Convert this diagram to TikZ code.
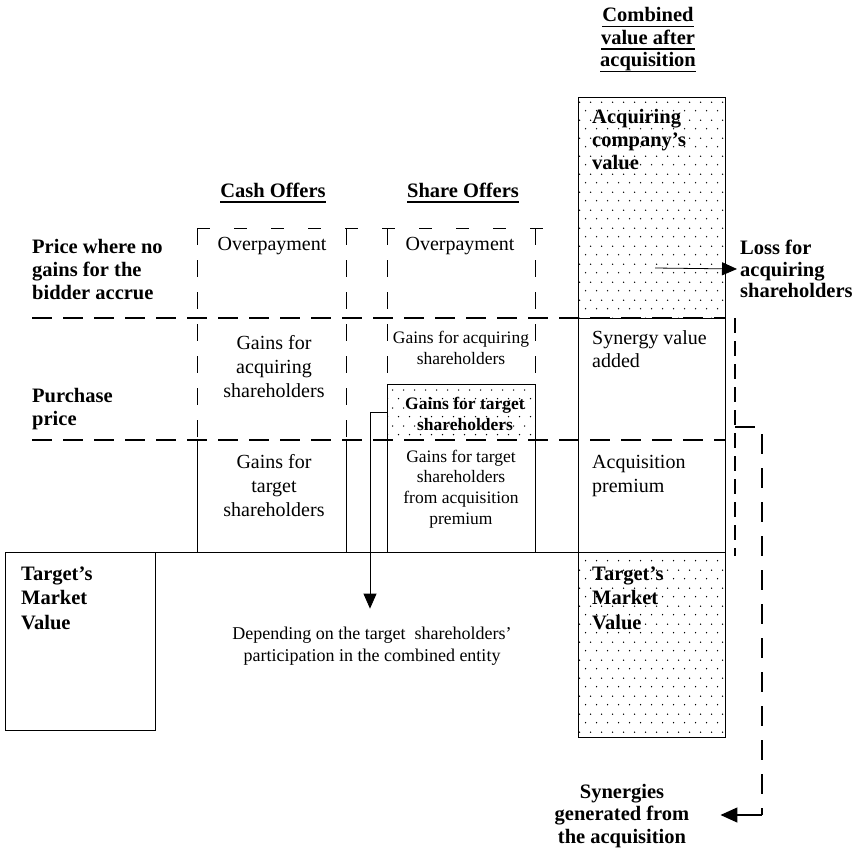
\documentclass[tikz,border=0pt]{standalone}
\usepackage{fontspec}
\setmainfont{Liberation Serif}
\usetikzlibrary{arrows.meta,patterns.meta}

% staggered dot screen for the shaded blocks
\tikzdeclarepattern{
  name=stagdots,
  type=uncolored,
  bounding box={(0pt,0pt) and (11pt,18pt)},
  tile size={(11pt,18pt)},
  code={
    \pgfpathcircle{\pgfpoint{2.75pt}{4.5pt}}{0.8pt}
    \pgfpathcircle{\pgfpoint{8.25pt}{13.5pt}}{0.8pt}
    \pgfusepath{fill}
  }
}

% underlined heading line
\newcommand{\headline}[1]{\leavevmode\setbox0=\hbox{#1}\rlap{\vrule width\wd0 height -3.8pt depth 5.4pt}\box0}

\tikzset{
  boxline/.style={line width=0.8pt},
  longdash/.style={line width=1.8pt, dash pattern=on 20pt off 11pt},
  sidedash/.style={line width=0.8pt, dash pattern=on 17pt off 15pt},
  topdash/.style={line width=1pt, dash pattern=on 13pt off 24pt},
  thickdash/.style={line width=1.6pt, dash pattern=on 15pt off 8pt},
  bracketdash/.style={line width=1.6pt, dash pattern=on 20pt off 14pt},
  dotfill/.style={pattern=stagdots},
  boldlabel/.style={font=\fontsize{20.5}{23}\selectfont\bfseries, align=left, inner sep=0pt, anchor=west},
  heading/.style={font=\fontsize{20.5}{22.5}\selectfont\bfseries, align=center, inner sep=0pt},
  body/.style={font=\fontsize{20}{24}\selectfont, align=center, inner sep=0pt},
  bodyleft/.style={font=\fontsize{20}{23.5}\selectfont, align=left, inner sep=0pt, anchor=west},
  smalltext/.style={font=\fontsize{17.5}{20.7}\selectfont, align=center, inner sep=0pt},
  tip/.style={-{Triangle[length=15pt,width=13pt]}},
}

\begin{document}
\begin{tikzpicture}[x=1pt,y=-1pt]
  \def\cashL{197}
  \def\cashR{346}
  \def\shareL{387}
  \def\shareR{535}
  \def\combL{578}
  \def\combR{725}
  \def\yTop{228} % top of the offer boxes
  \def\yA{318}   % price where no gains accrue
  \def\yB{440}   % purchase price
  \def\yC{552}   % target's market value
  \def\yShare{384}

  \useasboundingbox (0,0) rectangle (864,853);

  % Combined value column
  \fill[dotfill] (\combL,97) rectangle (\combR,\yA);
  \fill[dotfill] (\combL,\yC) rectangle (\combR,737);
  \draw[boxline] (\combL,97) rectangle (\combR,737);
  \draw[boxline] (\combL,\yA) -- (\combR,\yA);

  % Target's market value box and base line
  \draw[boxline] (5,\yC) rectangle (155,730);
  \draw[boxline] (155,\yC) -- (\combR,\yC);

  % Dashed offer boxes
  \draw[topdash] (\cashL,\yTop) -- (552,\yTop);
  \foreach \x in {\cashL,\cashR}
    \draw[sidedash] (\x,\yTop) -- (\x,\yB);
  \foreach \x in {\shareL,\shareR}
    \draw[sidedash] (\x,\yTop) -- (\x,\yShare);

  % Gains for target shareholders (share offers)
  \fill[dotfill] (\shareL,\yShare) rectangle (\shareR,\yB);
  \draw[boxline] (\shareL,\yB) -- (\shareL,\yShare) -- (\shareR,\yShare) -- (\shareR,\yB);

  % Solid sides of the lower boxes
  \foreach \x in {\cashL,\cashR,\shareL,\shareR}
    \draw[boxline] (\x,\yB) -- (\x,\yC);

  % Price levels
  \draw[longdash] (32,\yA) -- (\combR,\yA);
  \draw[longdash] (32,\yB) -- (\combR,\yB);
  \draw[thickdash] (735,\yA) -- (735,556);

  % Headings
  \node[heading] (cashhead) at (273,193) {\headline{Cash Offers}};
  \node[heading] (sharehead) at (463,193) {\headline{Share Offers}};
  \node[heading] (combhead) at (648,40) {\headline{Combined}\\\headline{value after}\\\headline{acquisition}};

  % Left labels
  \node[boldlabel] (nogain) at (32,270) {Price where no\\gains for the\\bidder accrue};
  \node[boldlabel] (purchase) at (32,409) {Purchase\\price};
  \node[boldlabel, font=\fontsize{20.5}{24.5}\selectfont\bfseries] (tmvleft) at (21,598) {Target's\\Market\\Value};

  % Cash offers
  \node[body] (cashover) at (272,246) {Overpayment};
  \node[body] (cashacq) at (274,367) {Gains for\\acquiring\\shareholders};
  \node[body] (cashtgt) at (274,486) {Gains for\\target\\shareholders};

  % Share offers
  \node[body] (shareover) at (460,246) {Overpayment};
  \node[smalltext] (shareacq) at (461,348) {Gains for acquiring\\shareholders};
  \node[smalltext, font=\fontsize{17.5}{20.7}\selectfont\bfseries] (sharetgt) at (465,414) {Gains for target\\shareholders};
  \node[smalltext] (sharepremium) at (461,489) {Gains for target\\shareholders\\from acquisition\\premium};
  \node[smalltext, font=\fontsize{18}{22}\selectfont] (depend) at (372,646) {Depending on the target\ \ shareholders'\\participation in the combined entity};

  % Combined value
  \node[boldlabel] (acqvalue) at (592,140) {Acquiring\\company's\\value};
  \node[bodyleft] (synergy) at (592,349) {Synergy value\\added};
  \node[bodyleft] (premium) at (592,476) {Acquisition\\premium};
  \node[boldlabel, font=\fontsize{20.5}{24.5}\selectfont\bfseries] (tmvcomb) at (592,598) {Target's\\Market\\Value};

  % Right labels
  \node[boldlabel, font=\fontsize{20.5}{21.5}\selectfont\bfseries] (loss) at (740,269) {Loss for\\acquiring\\shareholders};
  \node[heading] (syn) at (622,816) {Synergies\\generated from\\the acquisition};

  % Arrows
  \coordinate (lossfrom) at (655,268);
  \draw[boxline, tip] (lossfrom) -- ([xshift=-3pt]loss.west);

  \coordinate (stub) at (\shareL,412);
  \draw[boxline, tip] (stub) -| ([xshift=-2pt,yshift=18pt]depend.north);

  \coordinate (brkfrom) at (735,427);
  \coordinate (brkto) at (762,815);
  \draw[bracketdash] (brkfrom) -| (brkto);
  \draw[line width=1.4pt, -{Triangle[length=17pt,width=15pt]}, shorten >=31pt] (brkto) -- (syn.east |- brkto);
\end{tikzpicture}
\end{document}
